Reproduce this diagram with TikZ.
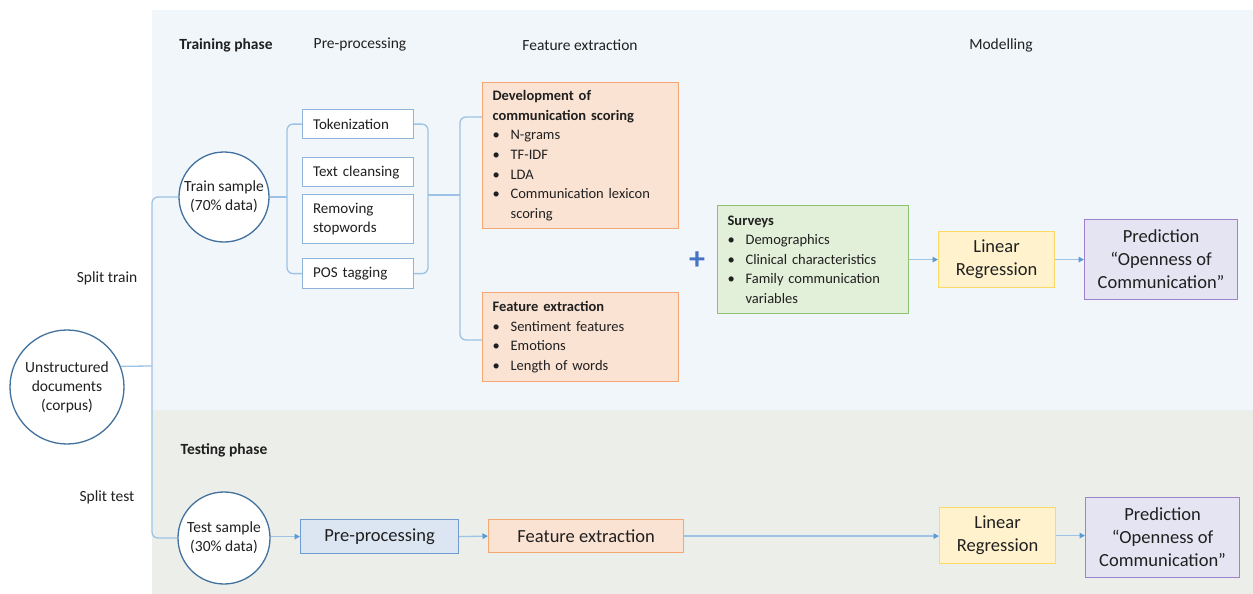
\documentclass[tikz,border=0pt]{standalone}
\usepackage{fontspec}
\setmainfont{Carlito}
\usetikzlibrary{arrows.meta,calc}
\definecolor{trainbg}{HTML}{F1F6FA}
\definecolor{testbg}{HTML}{ECEEEA}
\definecolor{conncol}{HTML}{9DC3E6}
\definecolor{tipcol}{HTML}{5B9BD5}
\definecolor{pluscol}{HTML}{4472C4}
\definecolor{circcol}{HTML}{41719C}
\definecolor{pboxcol}{HTML}{8FB4DA}
\definecolor{orfill}{HTML}{FBE3D4}
\definecolor{ordraw}{HTML}{F4A771}
\definecolor{grfill}{HTML}{E2EFD9}
\definecolor{grdraw}{HTML}{8DC26F}
\definecolor{yefill}{HTML}{FFF2CC}
\definecolor{yedraw}{HTML}{FFD966}
\definecolor{pufill}{HTML}{E4E4F2}
\definecolor{pudraw}{HTML}{A082CC}
\definecolor{blfill}{HTML}{DCE6F2}
\definecolor{bldraw}{HTML}{6F9BD0}
\definecolor{txt}{HTML}{202020}
\newcommand{\bitem}[1]{\makebox[18pt][l]{\textbullet}#1}
\newcommand{\bcont}[1]{\makebox[18pt][l]{}#1}
\tikzset{
  conn/.style={draw=conncol, line width=1.3pt, rounded corners=6pt},
  arr/.style={draw=conncol, line width=1.3pt, -{Triangle[length=5.5pt,width=5.5pt,color=tipcol]}},
  circ/.style={circle, draw=circcol, line width=1.3pt, fill=white, align=center, inner sep=0pt, font=\fontsize{15.5}{19}\selectfont, text=txt},
  pbox/.style={rectangle, draw=pboxcol, line width=1.2pt, fill=white, anchor=north west, align=left, inner xsep=10pt, inner ysep=0pt, text width=90pt, minimum width=111pt, font=\fontsize{15}{19}\selectfont, text=txt},
  lbox/.style={rectangle, line width=1.2pt, anchor=north west, align=left, inner xsep=10pt, inner ysep=0pt, font=\fontsize{14.5}{19.6}\selectfont, text=txt},
  cbox/.style={rectangle, line width=1.2pt, anchor=north west, align=center, inner sep=0pt, font=\fontsize{18.5}{23}\selectfont, text=txt},
  hdr/.style={font=\fontsize{15.5}{19}\selectfont, text=txt},
  lab/.style={font=\fontsize{15.5}{19}\selectfont, text=txt},
}
\begin{document}
\begin{tikzpicture}[x=1pt,y=-1pt]
\useasboundingbox (0,0) rectangle (1253,594);
\fill[white] (0,0) rectangle (1253,594);
\fill[trainbg] (152,10) rectangle (1253,410);
\fill[testbg] (152,410) rectangle (1253,594);

% headers
\node[hdr,font=\bfseries\fontsize{15.5}{19}\selectfont] (h1) at (226,45) {Training phase};
\node[hdr] (h2) at (360,45) {Pre-processing};
\node[hdr] (h3) at (580,45) {Feature extraction};
\node[hdr] (h4) at (1001,45) {Modelling};
\node[hdr,font=\bfseries\fontsize{15.5}{19}\selectfont] (h5) at (224,450) {Testing phase};

\node[lab] (lsplit1) at (107,278) {Split train};
\node[lab] (lsplit2) at (107,497) {Split test};

% circles
\node[circ, minimum size=114pt] (unstr) at (67,387) {Unstructured\\documents\\(corpus)};
\node[circ, minimum size=90pt] (train) at (224,197) {Train sample\\(70\% data)};
\node[circ, minimum size=92pt] (test) at (224,538) {Test sample\\(30\% data)};

% preprocessing boxes
\node[pbox, minimum height=29pt] (tok) at (302,109) {Tokenization};
\node[pbox, minimum height=29pt] (clean) at (302,157) {Text cleansing};
\node[pbox, minimum height=49pt] (stop) at (302,194) {Removing\\stopwords};
\node[pbox, minimum height=30pt] (pos) at (302,258) {POS tagging};

% feature boxes
\node[lbox, draw=ordraw, fill=orfill, text width=176pt, minimum height=146pt] (dev) at (482,82)
  {\textbf{Development of}\\\textbf{communication scoring}\\\bitem{N-grams}\\\bitem{TF-IDF}\\\bitem{LDA}\\\bitem{Communication lexicon}\\\bcont{scoring}};
\node[lbox, draw=ordraw, fill=orfill, text width=176pt, minimum height=89pt] (fe) at (482,292)
  {\textbf{Feature extraction}\\\bitem{Sentiment features}\\\bitem{Emotions}\\\bitem{Length of words}};

\node[text=pluscol, font=\bfseries\fontsize{32}{32}\selectfont] (plus) at (697,261) {+};

\node[lbox, draw=grdraw, fill=grfill, text width=171pt, minimum height=108pt] (surv) at (717,205)
  {\textbf{Surveys}\\\bitem{Demographics}\\\bitem{Clinical characteristics}\\\bitem{Family communication}\\\bcont{variables}};

\node[cbox, draw=yedraw, fill=yefill, minimum width=116pt, minimum height=56pt] (lr1) at (938,231) {Linear\\Regression};
\node[cbox, draw=pudraw, fill=pufill, minimum width=153pt, minimum height=80pt] (pred1) at (1084,219) {Prediction\\``Openness of\\Communication''};

% testing row
\node[cbox, draw=bldraw, fill=blfill, minimum width=158pt, minimum height=34pt] (pp2) at (300,519) {Pre-processing};
\node[cbox, draw=ordraw, fill=orfill, minimum width=195pt, minimum height=33pt] (fe2) at (488,519) {Feature extraction};
\node[cbox, draw=yedraw, fill=yefill, minimum width=116pt, minimum height=56pt] (lr2) at (939,507) {Linear\\Regression};
\node[cbox, draw=pudraw, fill=pufill, minimum width=154pt, minimum height=80pt] (pred2) at (1085,497) {Prediction\\``Openness of\\Communication''};

% coordinates
\coordinate (split) at (152,366);
\coordinate (b1) at (287,197);
\coordinate (b2) at (428,195);
\coordinate (b3) at (460,195);

% split brace
\draw[conn] (train.west) -| (split) |- (test.west);
\draw[conn] (unstr.21) -- (split);

% preprocessing braces
\draw[conn] (tok.west) -| (b1) |- (pos.west);
\draw[conn] (train.east) -- (b1);
\draw[conn] (tok.east) -| (b2) |- (pos.east);
\draw[conn] (b2) -- (b3);
\draw[conn] ([yshift=-35pt]dev.north west) -| (b3) |- ([yshift=-48pt]fe.north west);

% arrows
\draw[arr] (surv.east |- lr1.west) -- (lr1.west);
\draw[arr] (lr1.east) -- (pred1.west |- lr1.east);
\draw[arr] (test.east |- pp2.west) -- (pp2.west);
\draw[arr] (pp2.east) -- (fe2.west);
\draw[arr] (fe2.east) -- (lr2.west |- fe2.east);
\draw[arr] (lr2.east) -- (pred2.west |- lr2.east);
\end{tikzpicture}
\end{document}
